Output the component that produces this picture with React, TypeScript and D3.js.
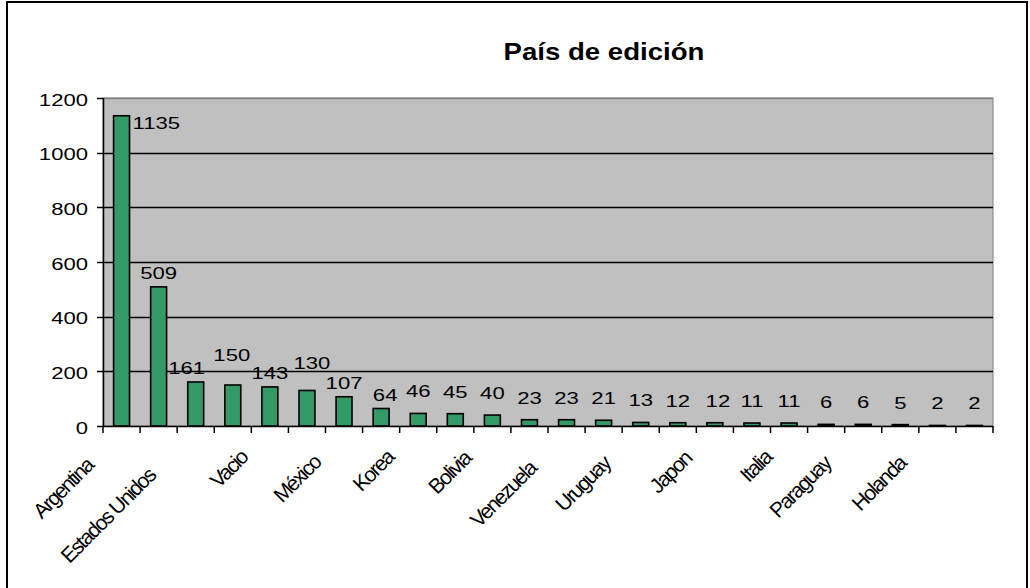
import React from 'react';
import * as d3 from 'd3';

// ---- data ----
const title = 'País de edición';
const categories = [
  'Argentina', 'Estados Unidos', '', 'Vacio', '', 'México', '', 'Korea', '', 'Bolivia', '',
  'Venezuela', '', 'Uruguay', '', 'Japon', '', 'Italia', '', 'Paraguay', '', 'Holanda', '', '',
];
const values = [1135, 509, 161, 150, 143, 130, 107, 64, 46, 45, 40, 23, 23, 21, 13, 12, 12, 11, 11, 6, 6, 5, 2, 2];
const yTicks = [0, 200, 400, 600, 800, 1000, 1200];

// ---- style: label nudges (relative to scale positions) ----
const valueLabelNudge: Record<number, [number, number]> = {
  2: [-9, 0],
  3: [-1, -16],
  5: [5, -13],
  7: [4, 0],
  16: [3, 0],
};
const catLabelNudge: Record<number, [number, number]> = {
  0: [-27, 41], 1: [-2, 51], 3: [16, 33], 5: [15, 38], 7: [14, 33], 9: [17, 34],
  11: [8, 44], 13: [8, 39], 15: [15, 34], 17: [21, 33], 19: [6, 39], 21: [7, 39],
};

const W = 1030;
const H = 588;
const P = { left: 103, top: 98, right: 993, bottom: 426 };
const FONT = "'Liberation Sans', Arial, Helvetica, sans-serif";

export default function App() {
  const idx = values.map((_, i) => i);
  const x = d3.scaleBand<number>().domain(idx).range([P.left, P.right]).padding(0);
  const y = d3.scaleLinear().domain([0, 1200]).range([P.bottom, P.top]);
  const bw = x.bandwidth() * 0.43;
  const cx = (i: number) => (x(i) as number) + x.bandwidth() / 2;
  const xTickPos = [...idx.map((i) => x(i) as number), P.right];

  return (
    <svg width={W} height={H} style={{ position: 'absolute', left: 0, top: 0, background: '#fff' }} fontFamily={FONT}>
      <rect x={0} y={0} width={W} height={H} fill="#fff" />
      {/* outer frame */}
      <rect x={7} y={2} width={1020} height={640} fill="none" stroke="#000" strokeWidth={2} />

      {/* title */}
      <text transform={`translate(604,60) scale(1.2,1)`} textAnchor="middle" fontSize={23} fontWeight="bold" fill="#000">
        {title}
      </text>

      {/* plot area */}
      <rect x={P.left} y={P.top} width={P.right - P.left} height={P.bottom - P.top} fill="#c0c0c0" stroke="#808080" strokeWidth={1} />

      {/* gridlines */}
      {yTicks.filter((t) => t > 0).map((t) => (
        <line key={'g' + t} x1={P.left} x2={P.right} y1={Math.round(y(t)) + 0.5} y2={Math.round(y(t)) + 0.5}
          stroke={t === 1200 ? '#808080' : '#000'} strokeWidth={1.3} />
      ))}

      {/* bars */}
      {values.map((v, i) => (
        <rect key={'b' + i} x={cx(i) - bw / 2} y={y(v)} width={bw} height={P.bottom - y(v)}
          fill="#339966" stroke="#000" strokeWidth={1.6} />
      ))}

      {/* y axis */}
      <line x1={P.left + 0.5} x2={P.left + 0.5} y1={P.top} y2={P.bottom} stroke="#000" strokeWidth={1.5} />
      {yTicks.map((t) => (
        <g key={'yt' + t}>
          <line x1={P.left - 6} x2={P.left} y1={Math.round(y(t)) + 0.5} y2={Math.round(y(t)) + 0.5} stroke="#000" strokeWidth={1.5} />
          <text transform={`translate(88,${y(t) + 7.5}) scale(1.3,1)`} textAnchor="end" fontSize={17} fill="#000">
            {t}
          </text>
        </g>
      ))}

      {/* x axis */}
      <line x1={P.left} x2={P.right} y1={P.bottom + 0.5} y2={P.bottom + 0.5} stroke="#000" strokeWidth={1.7} />
      {xTickPos.map((px, i) => (
        <line key={'xt' + i} x1={px} x2={px} y1={P.bottom} y2={P.bottom + 7} stroke="#000" strokeWidth={1.5} />
      ))}

      {/* value labels */}
      {values.map((v, i) => {
        if (i === 0) {
          return (
            <text key={'v' + i} transform={`translate(${cx(i) + bw / 2 + 3},${y(v) + 13}) scale(1.3,1)`} textAnchor="start" fontSize={17} fill="#000">
              {v}
            </text>
          );
        }
        const gap = v < 50 ? 16 : 8;
        const [dx, dy] = valueLabelNudge[i] || [0, 0];
        return (
          <text key={'v' + i} transform={`translate(${cx(i) + dx},${y(v) - gap + dy}) scale(1.3,1)`} textAnchor="middle" fontSize={17} fill="#000">
            {v}
          </text>
        );
      })}

      {/* category labels */}
      {categories.map((c, i) => {
        if (!c) return null;
        const [dx, dy] = catLabelNudge[i] || [12, 36];
        return (
          <text key={'c' + i} transform={`translate(${cx(i) + dx},${P.bottom + dy}) rotate(-45)`} textAnchor="end"
            fontSize={21} letterSpacing={-1.7} fill="#000">
            {c}
          </text>
        );
      })}
    </svg>
  );
}
